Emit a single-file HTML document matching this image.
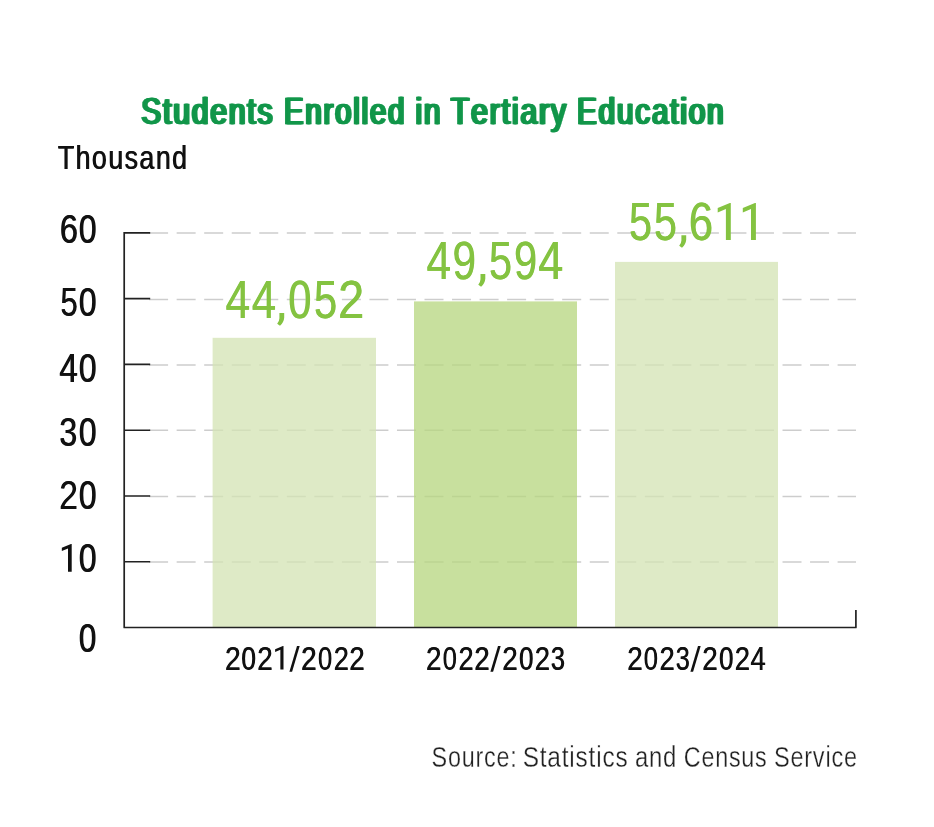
<!DOCTYPE html>
<html>
<head>
<meta charset="utf-8">
<title>Students Enrolled in Tertiary Education</title>
<style>
html,body{margin:0;padding:0;background:#fff;}
body{width:934px;height:827px;overflow:hidden;font-family:"Liberation Sans",sans-serif;}
svg{display:block;will-change:transform;}
text{font-family:"Liberation Sans",sans-serif;vector-effect:non-scaling-stroke;stroke-linejoin:round;}
</style>
</head>
<body>
<svg width="934" height="827" viewBox="0 0 934 827">
<rect x="0" y="0" width="934" height="827" fill="#ffffff"/>

<!-- dashed grid -->
<g stroke="#cdcdcd" stroke-width="1.5" stroke-dasharray="19 8.54" fill="none">
<line x1="149.1" y1="561.9" x2="856" y2="561.9"/>
<line x1="149.1" y1="496.5" x2="856" y2="496.5"/>
<line x1="149.1" y1="430.3" x2="856" y2="430.3"/>
<line x1="149.1" y1="365" x2="856" y2="365"/>
<line x1="149.1" y1="299.5" x2="856" y2="299.5"/>
<line x1="149.1" y1="232.9" x2="856" y2="232.9"/>
</g>

<!-- bars (slightly translucent so the grid shows through faintly) -->
<rect x="212.6" y="337.8" width="163.4" height="289.7" fill="#d3e3b3" fill-opacity="0.75"/>
<rect x="414" y="301.4" width="163" height="326.1" fill="#b6d67e" fill-opacity="0.75"/>
<rect x="615" y="261.9" width="163" height="365.6" fill="#d3e3b3" fill-opacity="0.75"/>

<!-- axes -->
<g stroke="#222222" stroke-width="1.7" fill="none" stroke-linejoin="round">
<path d="M124.2 231.98V627.5H855.9V610"/>
<path stroke-width="1.6" d="M124.2 232.88H150.2M124.2 298.65H150.2M124.2 364.42H150.2M124.2 430.19H150.2M124.2 495.96H150.2M124.2 561.73H150.2"/>
</g>

<!-- title (regular weight thickened horizontally to mimic a bold condensed face) -->
<g font-size="37.6" letter-spacing="2.4" fill="#12964a" stroke="#12964a" stroke-width="0.35" style="font-kerning:none">
<text transform="translate(140.02,123.6) scale(0.7946,1)">Students</text>
<text transform="translate(140.88,123.6) scale(0.7946,1)">Students</text>
<text transform="translate(141.75,123.6) scale(0.7946,1)">Students</text>
<text transform="translate(142.62,123.6) scale(0.7946,1)">Students</text>
<text transform="translate(282.67,123.6) scale(0.7783,1)">Enrolled</text>
<text transform="translate(283.54,123.6) scale(0.7783,1)">Enrolled</text>
<text transform="translate(284.41,123.6) scale(0.7783,1)">Enrolled</text>
<text transform="translate(285.27,123.6) scale(0.7783,1)">Enrolled</text>
<text transform="translate(414.19,123.6) scale(0.7882,1)">in</text>
<text transform="translate(415.06,123.6) scale(0.7882,1)">in</text>
<text transform="translate(415.93,123.6) scale(0.7882,1)">in</text>
<text transform="translate(416.79,123.6) scale(0.7882,1)">in</text>
<text transform="translate(449.6,123.6) scale(0.7986,1)">Tertiary</text>
<text transform="translate(450.47,123.6) scale(0.7986,1)">Tertiary</text>
<text transform="translate(451.33,123.6) scale(0.7986,1)">Tertiary</text>
<text transform="translate(452.2,123.6) scale(0.7986,1)">Tertiary</text>
<text transform="translate(575.75,123.6) scale(0.7863,1)">Education</text>
<text transform="translate(576.62,123.6) scale(0.7863,1)">Education</text>
<text transform="translate(577.48,123.6) scale(0.7863,1)">Education</text>
<text transform="translate(578.35,123.6) scale(0.7863,1)">Education</text>
</g>

<!-- unit -->
<g font-size="33.6" letter-spacing="1.8" fill="#111" style="font-kerning:none">
<text transform="translate(57.4,168.5) scale(0.7981,1)">Thousand</text>
<text transform="translate(58.2,168.5) scale(0.7981,1)">Thousand</text>
</g>

<!-- y labels -->
<g font-size="40.7" fill="#111">
<text transform="translate(59.55,242.6) scale(0.7987,1)">6</text>
<text transform="translate(60.25,242.6) scale(0.7987,1)">6</text>
<text transform="translate(78.56,242.6) scale(0.7813,1)">0</text>
<text transform="translate(79.26,242.6) scale(0.7813,1)">0</text>
<text transform="translate(60.16,315.7) scale(0.7618,1)">5</text>
<text transform="translate(60.86,315.7) scale(0.7618,1)">5</text>
<text transform="translate(78.56,315.7) scale(0.7813,1)">0</text>
<text transform="translate(79.26,315.7) scale(0.7813,1)">0</text>
<text transform="translate(58.94,381.9) scale(0.8143,1)">4</text>
<text transform="translate(59.64,381.9) scale(0.8143,1)">4</text>
<text transform="translate(78.56,381.9) scale(0.7813,1)">0</text>
<text transform="translate(79.26,381.9) scale(0.7813,1)">0</text>
<text transform="translate(59.08,445.7) scale(0.7877,1)">3</text>
<text transform="translate(59.78,445.7) scale(0.7877,1)">3</text>
<text transform="translate(78.56,445.7) scale(0.7813,1)">0</text>
<text transform="translate(79.26,445.7) scale(0.7813,1)">0</text>
<text transform="translate(58.91,508.7) scale(0.8252,1)">2</text>
<text transform="translate(59.61,508.7) scale(0.8252,1)">2</text>
<text transform="translate(78.56,508.7) scale(0.7813,1)">0</text>
<text transform="translate(79.26,508.7) scale(0.7813,1)">0</text>
<path d="M0 0V100H-13.3V16L-35.5 25.2V13.4L-2.6 0Z" transform="translate(71.7,544) scale(0.2780)"/>
<text transform="translate(78.56,571.8) scale(0.7813,1)">0</text>
<text transform="translate(79.26,571.8) scale(0.7813,1)">0</text>
<text transform="translate(78.57,651.7) scale(0.771,1)">0</text>
<text transform="translate(79.27,651.7) scale(0.771,1)">0</text>
</g>

<!-- value labels -->
<g font-size="53.2" fill="#84c341">
<text transform="translate(225.18,317.9) scale(0.8337,1)">4</text>
<text transform="translate(225.73,317.9) scale(0.8337,1)">4</text>
<text transform="translate(251.4,317.9) scale(0.8225,1)">4</text>
<text transform="translate(251.95,317.9) scale(0.8225,1)">4</text>
<path d="M-13 -13H0V-0.5Q-0.8 11.4 -11.4 21.1L-19 15.7Q-13 8.1 -13 1.1Z" transform="translate(284.2,317.9) scale(0.3690)"/>
<text transform="translate(288.09,317.9) scale(0.7766,1)">0</text>
<text transform="translate(288.64,317.9) scale(0.7766,1)">0</text>
<text transform="translate(313.73,317.9) scale(0.783,1)">5</text>
<text transform="translate(314.28,317.9) scale(0.783,1)">5</text>
<text transform="translate(337.84,317.9) scale(0.8809,1)">2</text>
<text transform="translate(338.39,317.9) scale(0.8809,1)">2</text>
<text transform="translate(426.29,278.9) scale(0.83,1)">4</text>
<text transform="translate(426.84,278.9) scale(0.83,1)">4</text>
<text transform="translate(452.32,278.9) scale(0.7956,1)">9</text>
<text transform="translate(452.87,278.9) scale(0.7956,1)">9</text>
<path d="M-13 -13H0V-0.5Q-0.8 11.4 -11.4 21.1L-19 15.7Q-13 8.1 -13 1.1Z" transform="translate(485.3,278.9) scale(0.3690)"/>
<text transform="translate(488.64,278.9) scale(0.779,1)">5</text>
<text transform="translate(489.19,278.9) scale(0.779,1)">5</text>
<text transform="translate(513.65,278.9) scale(0.7834,1)">9</text>
<text transform="translate(514.2,278.9) scale(0.7834,1)">9</text>
<text transform="translate(538.08,278.9) scale(0.8374,1)">4</text>
<text transform="translate(538.63,278.9) scale(0.8374,1)">4</text>
<text transform="translate(628.64,240) scale(0.779,1)">5</text>
<text transform="translate(629.19,240) scale(0.779,1)">5</text>
<text transform="translate(653.75,240) scale(0.7751,1)">5</text>
<text transform="translate(654.3,240) scale(0.7751,1)">5</text>
<path d="M-13 -13H0V-0.5Q-0.8 11.4 -11.4 21.1L-19 15.7Q-13 8.1 -13 1.1Z" transform="translate(686.2,240) scale(0.3690)"/>
<text transform="translate(688.59,240) scale(0.8168,1)">6</text>
<text transform="translate(689.14,240) scale(0.8168,1)">6</text>
<path d="M0 0V100H-13.3V16L-35.5 25.2V13.4L-2.6 0Z" transform="translate(730.8,203.1) scale(0.3690)"/>
<path d="M0 0V100H-13.3V16L-35.5 25.2V13.4L-2.6 0Z" transform="translate(755.9,203.1) scale(0.3690)"/>
</g>

<!-- x labels -->
<g font-size="33.6" fill="#111">
<text transform="translate(224.68,669.6) scale(0.8427,1)">2</text>
<text transform="translate(225.28,669.6) scale(0.8427,1)">2</text>
<text transform="translate(241.08,669.6) scale(0.7782,1)">0</text>
<text transform="translate(241.68,669.6) scale(0.7782,1)">0</text>
<text transform="translate(257,669.6) scale(0.8297,1)">2</text>
<text transform="translate(257.6,669.6) scale(0.8297,1)">2</text>
<path d="M0 0V100H-13.3V16L-35.5 25.2V13.4L-2.6 0Z" transform="translate(283.5,646) scale(0.2360)"/>
<path d="M297 646H299.7L292.1 671.8H289.4Z"/>
<text transform="translate(300.8,669.6) scale(0.8297,1)">2</text>
<text transform="translate(301.4,669.6) scale(0.8297,1)">2</text>
<text transform="translate(317.7,669.6) scale(0.7596,1)">0</text>
<text transform="translate(318.3,669.6) scale(0.7596,1)">0</text>
<text transform="translate(333.43,669.6) scale(0.8101,1)">2</text>
<text transform="translate(334.03,669.6) scale(0.8101,1)">2</text>
<text transform="translate(349,669.6) scale(0.8297,1)">2</text>
<text transform="translate(349.6,669.6) scale(0.8297,1)">2</text>
<text transform="translate(425.7,669.6) scale(0.8297,1)">2</text>
<text transform="translate(426.3,669.6) scale(0.8297,1)">2</text>
<text transform="translate(442.41,669.6) scale(0.7533,1)">0</text>
<text transform="translate(443.01,669.6) scale(0.7533,1)">0</text>
<text transform="translate(458.13,669.6) scale(0.8101,1)">2</text>
<text transform="translate(458.73,669.6) scale(0.8101,1)">2</text>
<text transform="translate(474.12,669.6) scale(0.8166,1)">2</text>
<text transform="translate(474.72,669.6) scale(0.8166,1)">2</text>
<path d="M498 646H500.7L493.1 671.8H490.4Z"/>
<text transform="translate(501.9,669.6) scale(0.8297,1)">2</text>
<text transform="translate(502.5,669.6) scale(0.8297,1)">2</text>
<text transform="translate(518.79,669.6) scale(0.7658,1)">0</text>
<text transform="translate(519.39,669.6) scale(0.7658,1)">0</text>
<text transform="translate(534.42,669.6) scale(0.8166,1)">2</text>
<text transform="translate(535.02,669.6) scale(0.8166,1)">2</text>
<text transform="translate(550.54,669.6) scale(0.7533,1)">3</text>
<text transform="translate(551.14,669.6) scale(0.7533,1)">3</text>
<text transform="translate(626.9,669.6) scale(0.8297,1)">2</text>
<text transform="translate(627.5,669.6) scale(0.8297,1)">2</text>
<text transform="translate(643.5,669.6) scale(0.7596,1)">0</text>
<text transform="translate(644.1,669.6) scale(0.7596,1)">0</text>
<text transform="translate(659.22,669.6) scale(0.8166,1)">2</text>
<text transform="translate(659.82,669.6) scale(0.8166,1)">2</text>
<text transform="translate(675.44,669.6) scale(0.7533,1)">3</text>
<text transform="translate(676.04,669.6) scale(0.7533,1)">3</text>
<path d="M698 646H700.7L693.1 671.8H690.4Z"/>
<text transform="translate(701.9,669.6) scale(0.8297,1)">2</text>
<text transform="translate(702.5,669.6) scale(0.8297,1)">2</text>
<text transform="translate(718.79,669.6) scale(0.7658,1)">0</text>
<text transform="translate(719.39,669.6) scale(0.7658,1)">0</text>
<text transform="translate(734.42,669.6) scale(0.8166,1)">2</text>
<text transform="translate(735.02,669.6) scale(0.8166,1)">2</text>
<text transform="translate(750.17,669.6) scale(0.8151,1)">4</text>
<text transform="translate(750.77,669.6) scale(0.8151,1)">4</text>
</g>

<!-- source -->
<g font-size="30.3" letter-spacing="1" fill="#222" stroke="#fff" stroke-width="0.3" style="font-kerning:none">
<text transform="translate(431.59,766.7) scale(0.7725,1)">Source:</text>
<text transform="translate(522.64,766.7) scale(0.807,1)">Statistics</text>
<text transform="translate(634.99,766.7) scale(0.7878,1)">and</text>
<text transform="translate(683.76,766.7) scale(0.7707,1)">Census</text>
<text transform="translate(773.98,766.7) scale(0.7756,1)">Service</text>
</g>
</svg>
</body>
</html>
